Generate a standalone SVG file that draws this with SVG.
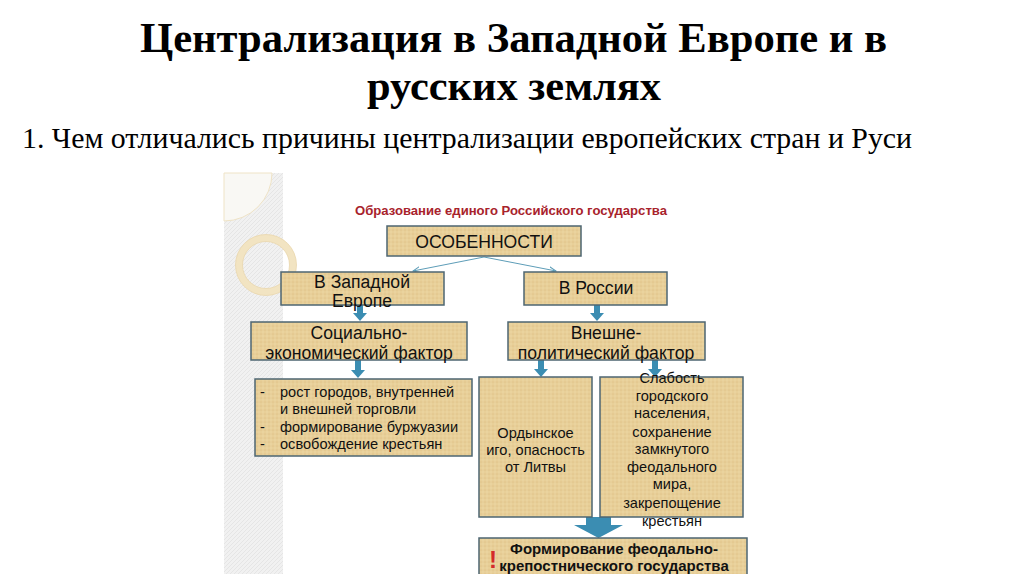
<svg xmlns="http://www.w3.org/2000/svg" width="1024" height="574" viewBox="0 0 1024 574">
  <defs>
    <pattern id="paper" patternUnits="userSpaceOnUse" width="8" height="8">
      <rect width="8" height="8" fill="#e8cf98"/>
      <path d="M0 2H8M0 6H8" stroke="#dfc286" stroke-width="0.8"/>
      <path d="M3 0V8M7 0V8" stroke="#eedaa9" stroke-width="0.7"/>
    </pattern>
    <pattern id="hatch" patternUnits="userSpaceOnUse" width="4" height="4">
      <rect width="4" height="4" fill="#f1f1f1"/>
      <path d="M0 4L4 0" stroke="#e2e2e2" stroke-width="0.8"/>
    </pattern>
    <marker id="tip" markerWidth="8" markerHeight="8" refX="7" refY="4" orient="auto" markerUnits="userSpaceOnUse">
      <path d="M0 1L7 4L0 7" fill="none" stroke="#5d9db8" stroke-width="1"/>
    </marker>
  </defs>
  <style>
    .title{font-family:"Liberation Serif","Times New Roman",serif;font-weight:bold;font-size:42px;fill:#000}
    .sub{font-family:"Liberation Serif","Times New Roman",serif;font-size:30px;fill:#000}
    .box{fill:url(#paper);stroke:#4d6672;stroke-width:1.5}
    .t17{font-family:"Liberation Sans",Arial,sans-serif;font-size:17.6px;fill:#111;text-anchor:middle}
    .t14{font-family:"Liberation Sans",Arial,sans-serif;font-size:14.6px;fill:#111}
    .c{text-anchor:middle}
    .b14{font-family:"Liberation Sans",Arial,sans-serif;font-size:15px;font-weight:bold;fill:#111;text-anchor:middle}
    .red{font-family:"Liberation Sans",Arial,sans-serif;font-size:12px;font-weight:bold;fill:#a8232c;text-anchor:middle}
    .arr{fill:#3b8db2}
    .thin{stroke:#5d9db8;stroke-width:1;fill:none}
  </style>
  <rect width="1024" height="574" fill="#ffffff"/>

  <g id="headings">
    <text class="title" x="140" y="52" textLength="747" lengthAdjust="spacingAndGlyphs">Централизация в Западной Европе и в</text>
    <text class="title" x="367" y="100" textLength="294" lengthAdjust="spacingAndGlyphs">русских землях</text>
    <text class="sub" x="22" y="148" textLength="890" lengthAdjust="spacingAndGlyphs">1. Чем отличались причины централизации европейских стран и Руси</text>
  </g>

  <g id="background">
    <rect x="224" y="173" width="59" height="401" fill="url(#hatch)"/>
    <path d="M224 173H272A48 48 0 0 1 224 221Z" fill="#f9f8f4" stroke="#efe3c6" stroke-width="1"/>
    <circle cx="266" cy="265" r="27" fill="none" stroke="#f2e4c2" stroke-width="7"/>
    <circle cx="266" cy="265" r="30.5" fill="none" stroke="#ead7ad" stroke-width="0.8"/>
    <circle cx="266" cy="265" r="23.5" fill="none" stroke="#ead7ad" stroke-width="0.8"/>
  </g>

  <g id="diagram-title">
    <text class="red" x="511" y="215" textLength="312" lengthAdjust="spacingAndGlyphs">Образование единого Российского государства</text>
  </g>

  <g id="connectors">
    <path class="thin" d="M484 257L413 271" marker-end="url(#tip)"/>
    <path class="thin" d="M484 257L556 271" marker-end="url(#tip)"/>
    <path class="arr" d="M357 305H363V313H367L360 321L353 313H357Z"/>
    <path class="arr" d="M355 360H361V370H365L358 378L351 370H355Z"/>
    <path class="arr" d="M594 305H600V313H604L597 321L590 313H594Z"/>
    <path class="arr" d="M538 360H544V369H548L541 377L534 369H538Z"/>
    <path class="arr" d="M652 360H658V369H662L655 377L648 369H652Z"/>
    <path class="arr" d="M586 517H611V525H623L598.5 538L574 525H586Z"/>
  </g>

  <g id="node-features">
    <rect class="box" x="387" y="226" width="194" height="30"/>
    <text class="t17" x="484" y="248">ОСОБЕННОСТИ</text>
  </g>

  <g id="node-west">
    <rect class="box" x="281" y="272" width="163" height="33"/>
    <text class="t17" x="362" y="288">В Западной</text>
    <text class="t17" x="362" y="307">Европе</text>
  </g>

  <g id="node-russia">
    <rect class="box" x="524" y="272" width="143" height="33"/>
    <text class="t17" x="596" y="294">В России</text>
  </g>

  <g id="node-socio">
    <rect class="box" x="251" y="322" width="216" height="38"/>
    <text class="t17" x="359" y="339">Социально-</text>
    <text class="t17" x="359" y="359">экономический фактор</text>
  </g>

  <g id="node-foreign">
    <rect class="box" x="508" y="322" width="197" height="38"/>
    <text class="t17" x="606" y="339">Внешне-</text>
    <text class="t17" x="606" y="359">политический фактор</text>
  </g>

  <g id="node-west-list">
    <rect class="box" x="255" y="379" width="217" height="77"/>
    <text class="t14" x="260" y="397">-</text>
    <text class="t14" x="280" y="397">рост городов, внутренней</text>
    <text class="t14" x="280" y="414">и внешней торговли</text>
    <text class="t14" x="260" y="432">-</text>
    <text class="t14" x="280" y="432">формирование буржуазии</text>
    <text class="t14" x="260" y="449">-</text>
    <text class="t14" x="280" y="449">освобождение крестьян</text>
  </g>

  <g id="node-horde">
    <rect class="box" x="479" y="377" width="113" height="140"/>
    <text class="t14 c" x="535.5" y="438">Ордынское</text>
    <text class="t14 c" x="535.5" y="455">иго, опасность</text>
    <text class="t14 c" x="535.5" y="472">от Литвы</text>
  </g>

  <g id="node-weak">
    <rect class="box" x="600" y="377" width="143" height="140"/>
    <text class="t14 c" x="672" y="383">Слабость</text>
    <text class="t14 c" x="672" y="401">городского</text>
    <text class="t14 c" x="672" y="418">населения,</text>
    <text class="t14 c" x="672" y="437">сохранение</text>
    <text class="t14 c" x="672" y="454">замкнутого</text>
    <text class="t14 c" x="672" y="472">феодального</text>
    <text class="t14 c" x="672" y="489">мира,</text>
    <text class="t14 c" x="672" y="508">закрепощение</text>
    <text class="t14 c" x="672" y="526">крестьян</text>
  </g>

  <g id="node-result">
    <rect class="box" x="479" y="538" width="268" height="40"/>
    <text x="493" y="568" font-family="Liberation Sans, Arial, sans-serif" font-size="24" font-weight="bold" fill="#d42a2a" text-anchor="middle">!</text>
    <text class="b14" x="614" y="554">Формирование феодально-</text>
    <text class="b14" x="614" y="571">крепостнического государства</text>
  </g>
</svg>
